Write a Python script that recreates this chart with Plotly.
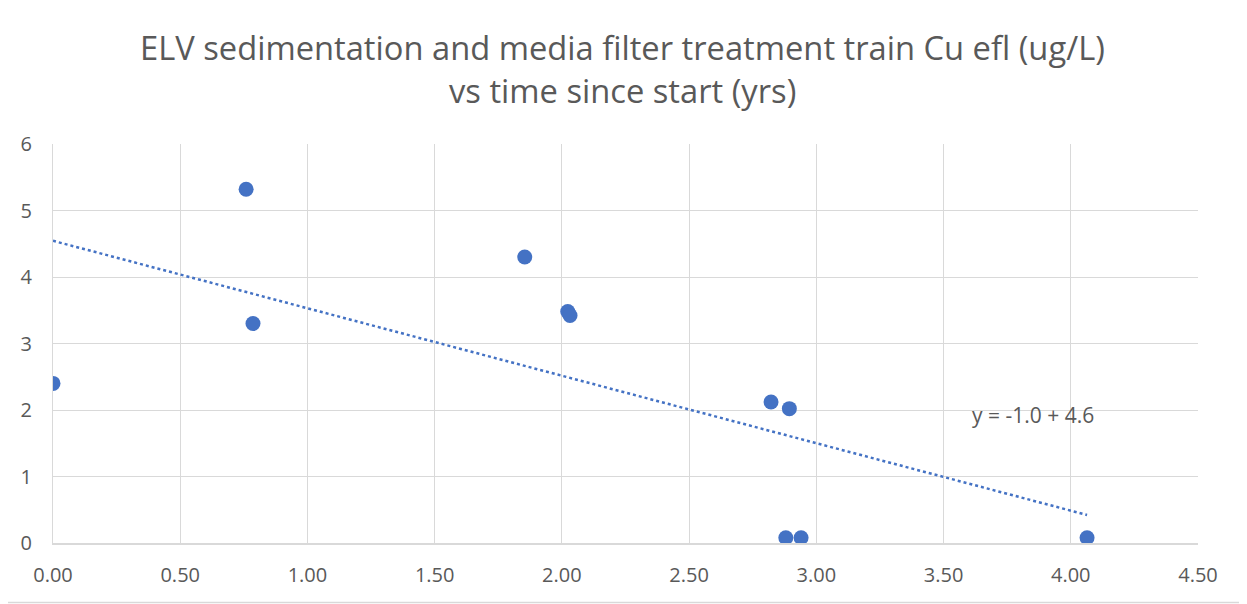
import numpy as np
import plotly.graph_objects as go

# Data
years = [0.00, 0.759, 0.786, 1.854, 2.023, 2.032, 2.822, 2.894, 2.880, 2.940, 4.064]
cu_efl = [2.40, 5.32, 3.30, 4.30, 3.48, 3.42, 2.12, 2.02, 0.08, 0.08, 0.08]
x_ticks = [0.0, 0.5, 1.0, 1.5, 2.0, 2.5, 3.0, 3.5, 4.0, 4.5]
y_ticks = [0, 1, 2, 3, 4, 5, 6]
title_lines = ["ELV sedimentation and media filter treatment train Cu efl (ug/L)",
               "vs time since start (yrs)"]
trend_label = "y = -1.0 + 4.6"

BLUE = "#4472C4"
GREY_TXT = "#595959"
GRID = "#D9D9D9"
FONT = "Open Sans"

slope, intercept = np.polyfit(years, cu_efl, 1)
tx = [min(years), max(years)]
ty = [slope * v + intercept for v in tx]

fig = go.Figure()
fig.add_trace(go.Scatter(x=tx, y=ty, mode="lines",
                         line=dict(color=BLUE, width=2.5, dash="dot"),
                         hoverinfo="skip", showlegend=False))
fig.add_trace(go.Scatter(x=years, y=cu_efl, mode="markers",
                         marker=dict(color=BLUE, size=15),
                         showlegend=False))

fig.add_annotation(x=3.85, y=1.92, xref="x", yref="y", text=trend_label,
                   showarrow=False, font=dict(family=FONT, size=21, color=GREY_TXT))

# chart title, two lines
for line, ypos in zip(title_lines, [1.243, 1.135]):
    fig.add_annotation(x=0.497, y=ypos, xref="paper", yref="paper", text=line,
                       xanchor="center", yanchor="middle", showarrow=False,
                       font=dict(family=FONT, size=32.7, color=GREY_TXT))

# page body has an 8px margin, so the figure is 8px smaller than the window
fig.update_layout(
    width=1239, height=596,
    margin=dict(l=45, r=49, t=136, b=61),
    paper_bgcolor="white", plot_bgcolor="white",
    xaxis=dict(range=[0, 4.5], tickvals=x_ticks, tickformat=".2f",
               showgrid=True, gridcolor=GRID, gridwidth=1,
               showline=True, linecolor=GRID, linewidth=1.5, zeroline=False,
               ticks="", ticklabelstandoff=13,
               tickfont=dict(family=FONT, size=20, color=GREY_TXT)),
    yaxis=dict(range=[0, 6], tickvals=y_ticks,
               showgrid=True, gridcolor=GRID, gridwidth=1,
               showline=True, linecolor=GRID, linewidth=1, zeroline=False,
               ticks="", ticklabelstandoff=16,
               tickfont=dict(family=FONT, size=20, color=GREY_TXT)),
)

# chart frame (only its bottom edge falls inside the page)
fig.add_shape(type="rect", xref="paper", yref="paper",
              x0=-60 / 1145, x1=1 + 60 / 1145, y0=-59.5 / 399, y1=1 + 150 / 399,
              line=dict(color=GRID, width=1.5), fillcolor="rgba(0,0,0,0)", layer="below")

fig.write_html("out.html")
